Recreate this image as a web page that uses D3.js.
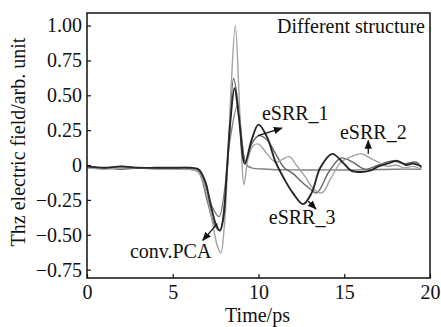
<!DOCTYPE html>
<html><head><meta charset="utf-8">
<script src="https://cdn.jsdelivr.net/npm/d3@7"></script>
<style>body{margin:0;background:#fff}svg{display:block}</style>
</head><body><svg id="c" width="441" height="327" font-family="'Liberation Serif', 'DejaVu Serif', serif"></svg>
<script>
const xTicks = [0, 5, 10, 15, 20];
const yTicks = [1.00, 0.75, 0.50, 0.25, 0, -0.25, -0.50, -0.75];
const yTickLabels = ["1.00", "0.75", "0.50", "0.25", "0", "\u22120.25", "\u22120.50", "\u22120.75"];

const tPCA = [0,1,2,3,4,5,6,6.5,7.0,7.3,7.7,8.0,8.3,8.75,9.0,9.3,9.6,10.5,12,14,16,18,19.5];
const vPCA = [-0.01,-0.02,-0.01,-0.02,-0.02,-0.02,-0.02,-0.04,-0.18,-0.3,-0.37,-0.2,0.15,0.42,0.2,0.0,-0.02,-0.03,-0.035,-0.035,-0.035,-0.03,-0.03];

const tS1 = [0,1,2,3,4,5,6,6.5,7.0,7.4,7.75,8.0,8.25,8.55,8.85,9.25,9.6,10.0,10.5,11.0,11.5,12.0,12.5,13.0,13.4,14.1,14.8,15.5,16.2,17.0,17.8,18.5,19.2,19.5];
const vS1 = [-0.02,-0.02,-0.03,-0.02,-0.02,-0.03,-0.03,-0.05,-0.25,-0.42,-0.47,-0.3,0.1,0.62,0.4,0.02,0.15,0.21,0.18,0.08,-0.02,-0.06,-0.12,-0.17,-0.2,-0.05,0.05,0.02,-0.03,0.0,0.03,0.01,0.02,-0.02];

const tS2 = [0,1,2,3,4,5,6,6.5,7.0,7.3,7.6,7.8,8.0,8.2,8.4,8.65,8.85,9.0,9.15,9.4,9.7,10.0,10.5,11.0,11.4,11.8,12.2,12.7,13.2,13.7,14.2,14.8,15.4,16.0,16.5,17.0,17.5,18,18.5,19,19.5];
const vS2 = [-0.02,-0.03,-0.02,-0.02,-0.03,-0.03,-0.03,-0.05,-0.22,-0.4,-0.58,-0.63,-0.45,0.0,0.55,1.0,0.55,0.1,-0.14,0.05,0.14,0.15,0.08,0.02,0.04,0.06,0.0,-0.08,-0.17,-0.2,-0.1,0.02,0.06,0.08,0.05,0.02,-0.01,0.0,-0.02,-0.01,-0.03];

const tS3 = [0,1,2,3,4,5,6,6.5,6.9,7.2,7.5,7.75,7.95,8.15,8.35,8.6,8.85,9.2,9.6,10.0,10.5,11.0,11.5,12.0,12.6,13.1,13.6,14.3,14.9,15.4,16.0,16.5,17.0,17.5,18.1,18.6,19.0,19.5];
const vS3 = [-0.01,-0.02,-0.01,-0.02,-0.02,-0.02,-0.02,-0.03,-0.12,-0.28,-0.42,-0.47,-0.38,-0.05,0.3,0.55,0.35,0.01,0.18,0.29,0.2,0.02,-0.1,-0.2,-0.28,-0.2,-0.02,0.08,0.02,-0.04,-0.05,-0.04,-0.01,0.01,0.03,0.0,0.01,-0.01];

const seriesNames = ["conv.PCA", "eSRR_1", "eSRR_2", "eSRR_3"];
const seriesColors = ["#808080", "#666666", "#a3a3a3", "#262626"];
const seriesWidths = [1.4, 1.4, 1.4, 1.9];

const labelText = ["eSRR_1", "eSRR_2", "eSRR_3", "conv.PCA"];
const labelT = [10.2, 14.75, 10.6, 2.5];
const labelV = [0.32, 0.19, -0.42, -0.67];
const arrowFrom = [[9.97,0.21],[16.4,0.08],[12.9,-0.26],[7.6,-0.42]];
const arrowTo = [[11.37,0.265],[16.4,0.175],[13.35,-0.315],[6.75,-0.54]];

const FONT = "'Liberation Serif', 'DejaVu Serif', serif";
const FS = 20;
const svg = d3.select("#c");
const L = 87, R = 430, T = 13, B = 278;
const x = d3.scaleLinear().domain([0, 20]).range([L, R]);
const y = d3.scaleLinear().domain([-0.81, 1.09]).range([B, T]);

const defs = svg.append("defs");
defs.append("marker").attr("id","ah").attr("viewBox","0 0 10 10").attr("refX",9).attr("refY",5)
  .attr("markerWidth",7).attr("markerHeight",7).attr("orient","auto")
  .append("path").attr("d","M0,1 L10,5 L0,9 Z").attr("fill","#111");

// lines
const line = d3.line().x(d => x(d[0])).y(d => y(d[1])).curve(d3.curveCatmullRom.alpha(0.5));
const series = [[tPCA,vPCA],[tS1,vS1],[tS2,vS2],[tS3,vS3]];
series.forEach((s, i) => {
  const pts = s[0].map((t, j) => [t, s[1][j]]);
  svg.append("path").datum(pts).attr("d", line).attr("fill","none")
    .attr("stroke", seriesColors[i]).attr("stroke-width", seriesWidths[i]).attr("stroke-linejoin","round");
});

// axes
const xAxis = d3.axisBottom(x).tickValues(xTicks).tickSize(-4).tickPadding(7).tickFormat(d3.format("d"));
const gx = svg.append("g").attr("transform", `translate(0,${B})`).call(xAxis);
const yAxis = d3.axisLeft(y).tickValues(yTicks).tickSize(-4).tickPadding(5).tickFormat((d,i) => yTickLabels[i]);
const gy = svg.append("g").attr("transform", `translate(${L},0)`).call(yAxis);
[gx, gy].forEach(g => {
  g.attr("font-family", FONT).attr("font-size", FS);
  g.select(".domain").remove();
  g.selectAll(".tick line").attr("stroke","#111").attr("stroke-width",1.2);
  g.selectAll(".tick text").attr("fill","#111");
});
svg.append("rect").attr("x",L).attr("y",T).attr("width",R-L).attr("height",B-T)
  .attr("fill","none").attr("stroke","#111").attr("stroke-width",1.5);

// titles
const txt = () => svg.append("text").attr("font-family", FONT).attr("font-size", FS).attr("fill","#111");
txt().attr("x", (L+R)/2 - 1).attr("y", 322).attr("text-anchor","middle").text("Time/ps");
txt().attr("transform", `translate(25,142) rotate(-90)`).attr("text-anchor","middle").text("Thz electric field/arb. unit");
txt().attr("x", 425).attr("y", 33).attr("text-anchor","end").text("Different structure");

// annotations
labelText.forEach((t, i) => {
  txt().attr("x", x(labelT[i])).attr("y", y(labelV[i])).text(t);
  svg.append("line").attr("x1", x(arrowFrom[i][0])).attr("y1", y(arrowFrom[i][1]))
    .attr("x2", x(arrowTo[i][0])).attr("y2", y(arrowTo[i][1]))
    .attr("stroke","#111").attr("stroke-width",1.3).attr("marker-end","url(#ah)");
});
</script></body></html>
